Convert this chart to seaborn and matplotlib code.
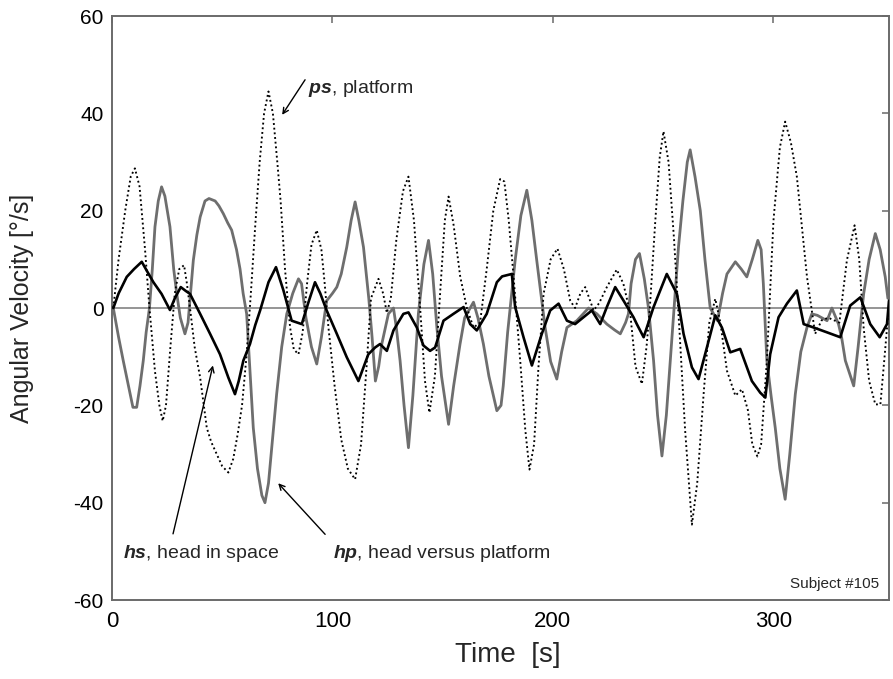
import matplotlib
matplotlib.use("Agg")
import matplotlib.pyplot as plt
import numpy as np
import pandas as pd
import seaborn as sns

# ---- data (time in s, angular velocity in deg/s) ----
ps_t = [0.6, 3, 6, 8.5, 10.4, 12.5, 15, 17, 19.5, 21.5, 23, 24.5, 26.5, 28.5, 30.5, 32.7,
        34, 35.4, 37.5, 40, 43, 45, 47.5, 50, 52.8, 55, 57, 59, 61, 63, 65, 67, 69, 71,
        73, 75, 76.5, 78.5, 80.8, 82.5, 84.6, 86.5, 88.5, 90.5, 92.9, 95, 96.5, 98.2,
        101, 104, 107, 110.3, 113, 115.5, 117.5, 120.9, 123, 124.7, 126.5, 129, 132,
        134.5, 137, 139.8, 142, 144, 146.5, 149, 151, 152.7, 155, 158, 161, 164, 167,
        170, 173, 176.1, 178, 180, 182.2, 185.2, 187.5, 189.4, 191.5, 193.5, 195.8,
        199, 202.1, 205, 207.9, 210.1, 212.5, 214.7, 216.5, 218.5, 221, 224.5, 229,
        232, 235.1, 237.5, 240.4, 242.5, 244, 246.5, 248.5, 250.2, 252.5, 255, 257.5,
        260, 263.1, 265.5, 268.4, 271, 273.7, 276, 279, 282.8, 285.8, 288.5, 290.5,
        292.8, 294.5, 297.1, 300.1, 303, 305.4, 308, 310.7, 315.3, 319, 322, 325, 330,
        333.4, 336.9, 339, 341, 343.5, 346.3, 348.6, 350.5, 352]
ps_v = [0, 10, 20, 27, 28.7, 25, 12, 0, -13, -20, -23.2, -20, -8, 3, 8, 8.8,
        5, 0, -8, -14.3, -24.6, -27.5, -30, -32.5, -33.8, -31, -26, -20, -10, 3, 17, 30, 40, 44.5,
        40, 30, 22, 8, -4, -8.5, -9.5, -5, 5, 13, 16, 12, 5, -4,
        -16, -27, -33, -35.2, -28, -12, 2, 6, 3, -1, 2, 14, 24,
        27, 18, 0, -15, -21.5, -14, 4, 18, 22.9, 17, 6.4, 0, -4, -3,
        8, 20, 26.5, 26, 18, 6.4, -10.8, -25, -33.2, -28, -12, 2.9,
        10, 12.2, 8, 1.5, 0, 3, 4.3, 2, -0.5, 1, 4.3, 7.9,
        5, -1, -12, -15.6, -8, 0, 18, 31, 36.3, 30, 14, -5,
        -25, -44.5, -36, -17.7, -3, 1.9, -3, -12.9, -18, -16.7, -21, -28,
        -30.5, -28, -10.8, 18, 33, 38.3, 34, 27, 6.4, -5.3, -2.5, -2, -3,
        9.8, 17, 10, -4, -15, -19.8, -19.8, -10, -2]

hp_t = [0.6, 3, 5.1, 7.5, 9.5, 11.2, 12.7, 14.2, 15.5, 17, 18.3, 19.5, 21, 22.5, 24,
        26.3, 28, 29.4, 31, 33.1, 34.5, 36.9, 38.5, 40, 42.2, 44, 46.8, 48.5, 50.5,
        52.5, 54.3, 56.5, 58.1, 59.5, 61.1, 62.5, 64.1, 66, 68, 69.4, 71, 73, 74.7,
        77, 79.3, 82, 84.6, 86, 88, 90.5, 92.9, 95, 97.4, 100, 102, 104, 106.5, 108.5,
        110.3, 112, 114.1, 116.5, 118, 119.5, 121, 122.4, 125.4, 127.7, 129, 130.7,
        132.5, 134.5, 136.5, 139, 141.5, 143.6, 145.5, 147.4, 149.5, 152.7, 155,
        157.9, 160, 162.5, 164, 166, 168.5, 171, 174.6, 176.5, 177.5, 179.5, 182.9,
        185.5, 188.2, 190.5, 192.7, 196.5, 199, 201.8, 204, 206.4, 210.9, 216.2, 220,
        224.5, 228, 230.6, 233, 234.3, 235.5, 237.5, 239.3, 241.5, 243.4, 245.7,
        247.5, 249.5, 251.5, 253.3, 255, 257, 259, 261, 262.3, 264.5, 266.9, 269,
        271.4, 274.7, 277, 279, 282.8, 285.5, 288, 290.5, 293, 294.5, 295.5, 297.1,
        299, 300.9, 303, 305.4, 307.5, 310, 312.5, 315.3, 317.5, 320, 324.4, 326.6,
        329.6, 331, 332.7, 336.5, 338.5, 341, 343.5, 346.3, 348.5, 350.8, 352]
hp_v = [0, -6, -10.8, -16, -20.4, -20.4, -16, -10.8, -5, 0, 8, 16.7, 22, 24.9, 23,
        16.7, 8, 2.9, -2, -5.3, -3, 9.8, 15, 18.7, 22, 22.5, 22, 21, 19.4,
        17.5, 16, 12, 8, 3, -1.2, -12, -24.6, -33, -38.5, -40, -36, -26, -17.7,
        -8, -1.2, 3, 6, 5, -2, -8, -11.5, -6, 1.5, 3, 4.3, 7, 12.5, 18,
        21.8, 18, 12.5, 2, -6, -15, -12, -7.4, -1.2, 0, -4, -10.8,
        -20, -28.7, -18, -1.2, 9, 13.9, 7, -4, -14, -23.9, -16,
        -7.4, -2, 0, 1.2, -2, -7.4, -14, -21.1, -20, -16, -5, 9.8,
        19, 24.2, 18, 9.8, -4, -11, -14.6, -9, -4, -2.6, 0, -1.2,
        -3.3, -4.5, -5.3, -3, -1.2, 5, 10, 11.2, 6, 0, -10.8,
        -22, -30.4, -22, -10.8, 0, 12.5, 22, 30, 32.5, 27, 20, 10,
        0, -2.6, 3, 7, 9.5, 8, 6.4, 10, 13.9, 12, 5, -10.8,
        -18, -24.6, -33, -39.3, -30, -17.7, -9, -4, -1.2, -1.5, -2.6, 0,
        -3.3, -6, -10.8, -16, -8, 2.9, 10, 15.3, 12, 6.4, 2]

hs_t = [0.6, 3, 6.7, 10, 13.5, 16, 18.8, 22.5, 26.3, 28.5, 31.2, 33.5, 35.4, 40, 44.5,
        49, 52.8, 55.8, 57.5, 59.6, 62.6, 65, 67.2, 71, 74.4, 77.8, 81.5, 86.1, 89,
        92.1, 94.5, 97.4, 102, 106.5, 111.8, 116.3, 119.4, 121.6, 124.7, 127.7, 132.2,
        134.5, 138.3, 141.3, 144.3, 146.6, 150.4, 154.9, 159.5, 162.5, 165.5, 170,
        174.6, 177, 181.4, 182.9, 186.7, 190.5, 195, 198.8, 202.6, 206.4, 210.1,
        213.9, 217.7, 221.5, 224.5, 228.3, 232.1, 236.6, 238.1, 241.2, 245.7, 248.7,
        251.7, 256.3, 259.3, 263.1, 266.1, 269.9, 273.7, 276.7, 280.5, 285, 290.3,
        294.1, 296.4, 298.6, 302.4, 306.2, 310.7, 313.8, 318.3, 324.4, 330.4, 334.9,
        339.5, 344, 348.3, 351.6, 352.5]
hs_v = [0, 3, 6.4, 8, 9.5, 7.5, 5.3, 2.9, -0.4, 2, 4.3, 3.5, 2.9, -1.2, -5.3,
        -9.5, -14.3, -17.7, -15, -10.8, -7.4, -3.5, -0.5, 5.3, 8.4, 3.6, -2.6, -3.3, 1,
        5.3, 3, -0.5, -5.3, -10.1, -15, -9.5, -8.1, -7.4, -8.8, -4.6, -1.2,
        -0.9, -4, -7.7, -8.8, -8.1, -2.6, -1.2, 0.2, -3.3, -4.6, -1.2,
        5.3, 6.5, 7, 0.2, -6, -11.8, -5.3, -0.5, 0.9, -2.6, -3.3,
        -1.9, -0.5, -3.3, 0.2, 4.3, 1.5, -1.9, -3.3, -6, 0.2, 3.6,
        7, 2.9, -5.3, -12.2, -14.6, -8.1, -1.5, -4, -9.1, -8.4, -15,
        -17.4, -18.4, -9.5, -1.9, 0.9, 3.6, -3.3, -4, -5, -6, 0.5,
        2.2, -3.3, -6, -3.3, 1.5]

x_ticks = [0, 100, 200, 300]
y_ticks = [-60, -40, -20, 0, 20, 40, 60]

ps_df = pd.DataFrame({"t": ps_t, "v": ps_v})
hp_df = pd.DataFrame({"t": hp_t, "v": hp_v})
hs_df = pd.DataFrame({"t": hs_t, "v": hs_v})

sns.set_style("white")
plt.rcParams["font.family"] = ["Liberation Sans", "DejaVu Sans"]
plt.rcParams["axes.unicode_minus"] = False
plt.rcParams["mathtext.fontset"] = "custom"
plt.rcParams["mathtext.rm"] = "Liberation Sans"
plt.rcParams["mathtext.it"] = "Liberation Sans:italic"
plt.rcParams["mathtext.bf"] = "Liberation Sans:bold"
plt.rcParams["mathtext.bfit"] = "Liberation Sans:italic:bold"

fig = plt.figure(figsize=(8.93, 6.79), dpi=100)
ax = fig.add_axes([0.1254, 0.1163, 0.8701, 0.8601])

spine_grey = "#6a6a6a"
ax.axhline(0, color="#8c8c8c", lw=1.3, zorder=1)

sns.lineplot(data=hp_df, x="t", y="v", ax=ax, color="#6e6e6e", lw=2.0, zorder=2)
sns.lineplot(data=ps_df, x="t", y="v", ax=ax, color="black", lw=1.35,
             linestyle=(0, (1, 1.5)), zorder=3)
sns.lineplot(data=hs_df, x="t", y="v", ax=ax, color="black", lw=1.9, zorder=4)

ax.set_xlim(0, 352.5)
ax.set_ylim(-60, 60)
ax.set_xticks(x_ticks)
ax.set_yticks(y_ticks)

for s in ax.spines.values():
    s.set_color(spine_grey)
    s.set_linewidth(1.4)

ax.tick_params(axis="both", direction="in", length=5, width=1.1, color=spine_grey,
               top=True, right=True, labelcolor="black")
ax.tick_params(axis="y", labelsize=15, pad=6)
ax.tick_params(axis="x", labelsize=16, pad=8)

ax.set_ylabel("Angular Velocity [°/s]", fontsize=18)
ax.yaxis.set_label_coords(-0.1, 0.5)
ax.set_xlabel("Time  [s]", fontsize=20)
ax.xaxis.set_label_coords(0.51, -0.072)

arrow = dict(arrowstyle="->", color="black", lw=1.0, shrinkA=0, shrinkB=0)

ax.text(88.8, 45.2, r"$\boldsymbol{ps}$, platform", fontsize=14, va="center")
ax.annotate("", xy=(77.2, 39.7), xytext=(87.6, 46.9), arrowprops=arrow)
ax.text(5, -50.4, r"$\boldsymbol{hs}$, head in space", fontsize=14, va="center")
ax.annotate("", xy=(45.8, -11.8), xytext=(27.7, -46.4), arrowprops=arrow)
ax.text(100.3, -50.4, r"$\boldsymbol{hp}$, head versus platform", fontsize=14, va="center")
ax.annotate("", xy=(75.4, -36), xytext=(96.7, -46.5), arrowprops=arrow)

ax.text(348, -56.8, "Subject #105", fontsize=11, ha="right", va="center")

fig.savefig("out.png", dpi=100)
